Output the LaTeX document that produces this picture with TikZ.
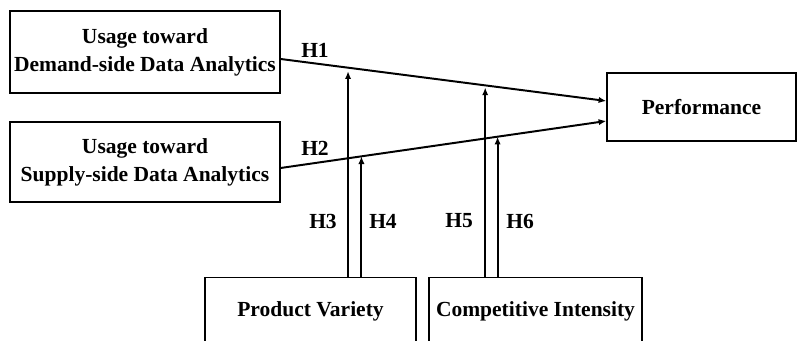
\documentclass[tikz,border=0pt]{standalone}
\usepackage{fontspec}
\setmainfont{Liberation Serif}
\usetikzlibrary{arrows.meta,calc,positioning}

\begin{document}
\begin{tikzpicture}[
    every node/.style={font=\fontsize{15.3}{20}\selectfont\bfseries},
    box/.style={draw, line width=0.9pt, align=center, inner sep=0pt},
    link/.style={line width=1.4pt, -{Latex[length=5.5pt,width=4.5pt]}}
  ]
    \useasboundingbox (0,0) rectangle (19.925,8.525);
    % Constructs
    \node[box, minimum width=6.75cm, minimum height=2.05cm] (demand) at (3.625,7.225) {Usage toward\\Demand-side Data Analytics};
    \node[box, minimum width=6.75cm, minimum height=2.0cm] (supply) at (3.625,4.475) {Usage toward\\Supply-side Data Analytics};
    \node[box, minimum width=4.725cm, minimum height=1.7cm] (perf) at (17.5375,5.85) {Performance};
    % Moderators
    \node[box, minimum width=5.275cm, minimum height=1.7cm] (variety) at (7.7625,0.74) {Product Variety};
    \node[box, minimum width=5.325cm, minimum height=1.7cm] (intensity) at (13.3875,0.74) {Competitive Intensity};
    % Main effects
    \draw[link] ($(demand.east)+(0,-0.175)$) -- ($(perf.west)+(0,0.15)$)
        coordinate[pos=0.207] (m3) coordinate[pos=0.628] (m5);
    \draw[link] ($(supply.east)+(0,-0.15)$) -- ($(perf.west)+(0,-0.35)$)
        coordinate[pos=0.248] (m4) coordinate[pos=0.666] (m6);
    % Moderating effects
    \draw[link, shorten >=2.5pt] (m3 |- variety.north) -- (m3);
    \draw[link] (m4 |- variety.north) -- (m4);
    \draw[link, shorten >=1.5pt] (m5 |- intensity.north) -- (m5);
    \draw[link] (m6 |- intensity.north) -- (m6);
    % Hypotheses
    \node (h1) at (7.875,7.275) {H1};
    \node (h2) at (7.875,4.825) {H2};
    \node (h3) at (8.075,3.0) {H3};
    \node (h4) at (9.575,3.0) {H4};
    \node (h5) at (11.475,3.0) {H5};
    \node (h6) at (13.0,3.0) {H6};
\end{tikzpicture}
\end{document}
